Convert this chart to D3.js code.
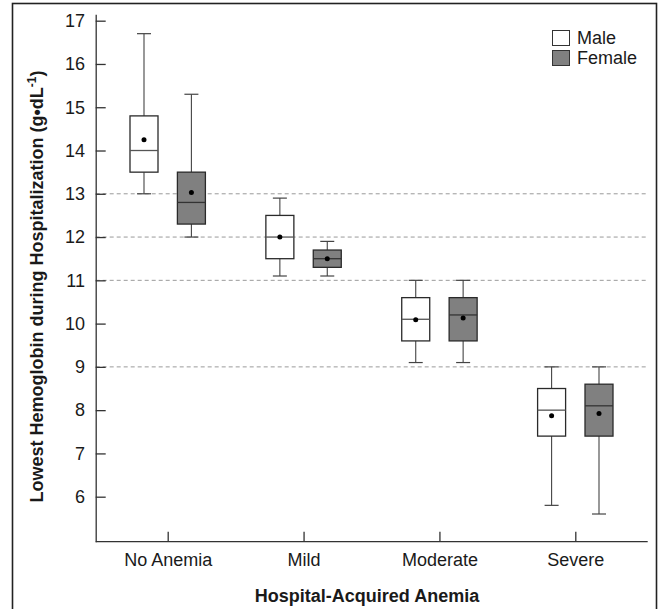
<!DOCTYPE html>
<html>
<head>
<meta charset="utf-8">
<script src="https://cdn.jsdelivr.net/npm/d3@7"></script>
<style>
  html, body { margin: 0; padding: 0; background: #fff; }
  svg { display: block; }
  text { font-family: "Liberation Sans", Arial, sans-serif; fill: #1a1a1a; }
</style>
</head>
<body>
<svg id="chart" width="661" height="609"></svg>
<script>
// ---- data ----
const categories = ["No Anemia", "Mild", "Moderate", "Severe"];
const groups = ["Male", "Female"];
// [whiskerLow, Q1, median, Q3, whiskerHigh, mean]
const maleStats = [
  [13.0, 13.5, 14.0, 14.8, 16.7, 14.25],
  [11.1, 11.5, 12.0, 12.5, 12.9, 12.0],
  [9.1, 9.6, 10.1, 10.6, 11.0, 10.09],
  [5.8, 7.4, 8.0, 8.5, 9.0, 7.87]
];
const femaleStats = [
  [12.0, 12.3, 12.8, 13.5, 15.3, 13.03],
  [11.1, 11.3, 11.5, 11.7, 11.9, 11.5],
  [9.1, 9.6, 10.2, 10.6, 11.0, 10.13],
  [5.6, 7.4, 8.1, 8.6, 9.0, 7.92]
];
const yTicks = [6, 7, 8, 9, 10, 11, 12, 13, 14, 15, 16, 17];
const refLines = [9, 11, 12, 13];
const groupFill = { Male: "#ffffff", Female: "#808080" };

// ---- layout ----
const svg = d3.select("#chart");
const xLeft = 95.7, xRight = 647.7;

const y = d3.scaleLinear().domain([4.96, 17.15]).range([541.7, 14.2]);
const x = d3.scalePoint().domain(categories).range([167.7, 575.3]);
const gx = d3.scalePoint().domain(groups).range([-23.7, 23.7]);
const boxW = 28, capW = 14;

// frame
svg.append("rect")
  .attr("x", 12.5).attr("y", 3.5).attr("width", 644).attr("height", 620)
  .attr("fill", "none").attr("stroke", "#222").attr("stroke-width", 1.6);

// reference dashed lines
svg.append("g").selectAll("line").data(refLines).join("line")
  .attr("x1", xLeft).attr("x2", xRight)
  .attr("y1", d => y(d)).attr("y2", d => y(d))
  .attr("stroke", "#9a9a9a").attr("stroke-width", 1)
  .attr("stroke-dasharray", "4,3");

// y axis
const yAxis = svg.append("g")
  .attr("transform", `translate(${xLeft},0)`)
  .call(d3.axisLeft(y).tickValues(yTicks).tickFormat(d3.format("d"))
    .tickSize(-10).tickSizeOuter(0).tickPadding(10.7));
yAxis.select(".domain").attr("stroke", "#333").attr("stroke-width", 1.3);
yAxis.selectAll(".tick line").attr("stroke", "#333").attr("stroke-width", 1.3);
yAxis.selectAll(".tick text").attr("font-size", 18)
  .style("font-family", '"Liberation Sans", Arial, sans-serif').attr("fill", "#1a1a1a");

// x axis
const xAxis = svg.append("g")
  .attr("transform", `translate(0,${y(4.96)})`)
  .call(d3.axisBottom(x).tickSize(-10).tickSizeOuter(0).tickPadding(11.2));
xAxis.select(".domain").remove();
xAxis.append("line").attr("x1", xLeft).attr("x2", xRight)
  .attr("stroke", "#333").attr("stroke-width", 1.3);
xAxis.selectAll(".tick line").attr("stroke", "#333").attr("stroke-width", 1.3);
xAxis.selectAll(".tick text").attr("font-size", 18)
  .style("font-family", '"Liberation Sans", Arial, sans-serif').attr("fill", "#1a1a1a");

// boxes
const boxData = [];
categories.forEach((c, i) => {
  boxData.push({ cat: c, group: "Male", s: maleStats[i] });
  boxData.push({ cat: c, group: "Female", s: femaleStats[i] });
});

const bg = svg.append("g").selectAll("g").data(boxData).join("g")
  .attr("transform", d => `translate(${x(d.cat) + gx(d.group)},0)`);

// whisker stems
bg.append("line").attr("x1", 0).attr("x2", 0)
  .attr("y1", d => y(d.s[0])).attr("y2", d => y(d.s[1]))
  .attr("stroke", "#444").attr("stroke-width", 1.1);
bg.append("line").attr("x1", 0).attr("x2", 0)
  .attr("y1", d => y(d.s[3])).attr("y2", d => y(d.s[4]))
  .attr("stroke", "#444").attr("stroke-width", 1.1);
// caps
bg.append("line").attr("x1", -capW / 2).attr("x2", capW / 2)
  .attr("y1", d => y(d.s[0])).attr("y2", d => y(d.s[0]))
  .attr("stroke", "#444").attr("stroke-width", 1.2);
bg.append("line").attr("x1", -capW / 2).attr("x2", capW / 2)
  .attr("y1", d => y(d.s[4])).attr("y2", d => y(d.s[4]))
  .attr("stroke", "#444").attr("stroke-width", 1.2);
// box
bg.append("rect")
  .attr("x", -boxW / 2).attr("width", boxW)
  .attr("y", d => y(d.s[3])).attr("height", d => y(d.s[1]) - y(d.s[3]))
  .attr("fill", d => groupFill[d.group])
  .attr("stroke", "#2a2a2a").attr("stroke-width", 1.3);
// median
bg.append("line").attr("x1", -boxW / 2).attr("x2", boxW / 2)
  .attr("y1", d => y(d.s[2])).attr("y2", d => y(d.s[2]))
  .attr("stroke", d => d.group === "Male" ? "#555" : "#333").attr("stroke-width", 1.3);
// mean
bg.append("circle").attr("cx", 0).attr("cy", d => y(d.s[5])).attr("r", 2.5)
  .attr("fill", "#000");

// legend
const lg = svg.append("g").selectAll("g").data(groups).join("g")
  .attr("transform", (d, i) => `translate(552.5,${30.5 + i * 20})`);
lg.append("rect").attr("width", 17).attr("height", 15)
  .attr("fill", d => groupFill[d]).attr("stroke", "#333").attr("stroke-width", 1);
lg.append("text").attr("x", 24.5).attr("y", 13.5).attr("font-size", 18).text(d => d);

// axis titles
svg.append("text")
  .attr("x", 367).attr("y", 601.7).attr("text-anchor", "middle")
  .attr("font-size", 18).attr("font-weight", "bold")
  .text("Hospital-Acquired Anemia");

const yt = svg.append("text")
  .attr("transform", "translate(43,286.5) rotate(-90)")
  .attr("text-anchor", "middle").attr("font-size", 18).attr("font-weight", "bold");
yt.append("tspan").text("Lowest Hemoglobin during Hospitalization (g\u2022dL");
yt.append("tspan").attr("font-size", 12).attr("dy", -7).text("-1");
yt.append("tspan").attr("dy", 7).text(")");
</script>
</body>
</html>
